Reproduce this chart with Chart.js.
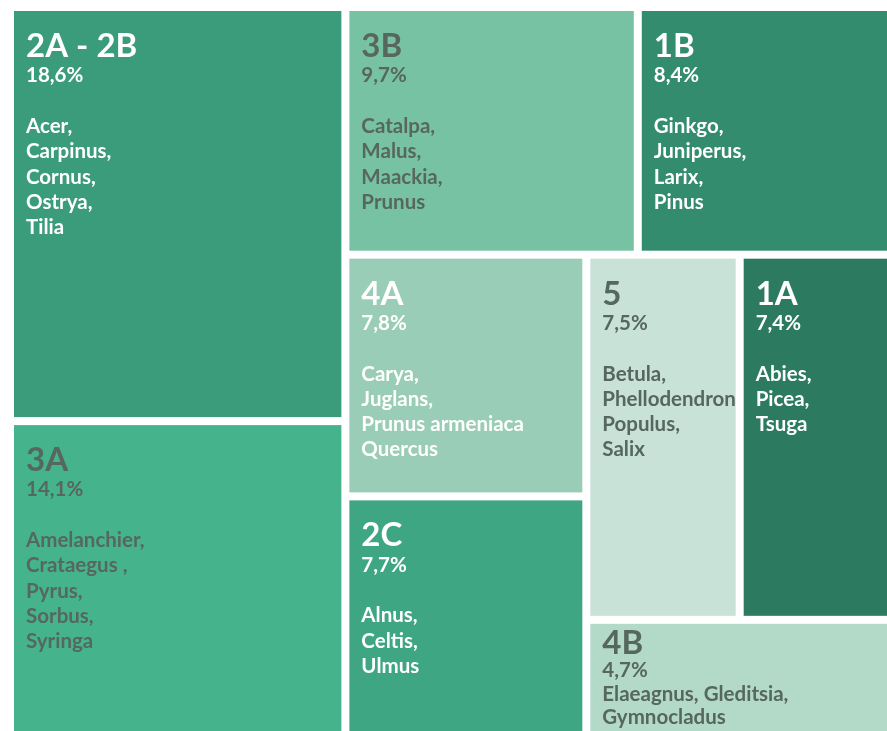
<!DOCTYPE html>
<html>
<head>
<meta charset="utf-8">
<script src="https://cdn.jsdelivr.net/npm/chart.js@4.4.1/dist/chart.umd.min.js"></script>
<style>
	html, body { margin: 0; padding: 0; background: #fff; overflow: hidden; }
	#wrap { position: relative; width: 891px; height: 735px; }
</style>
</head>
<body>
<div id="wrap"><canvas id="treemap"></canvas></div>
<script>
// Groups, their share (%) and the genera listed in each cell
const groups = ['2A - 2B', '3A', '3B', '1B', '4A', '2C', '5', '1A', '4B'];
const shares = [18.6, 14.1, 9.7, 8.4, 7.8, 7.7, 7.5, 7.4, 4.7];
const genera = [
	['Acer,', 'Carpinus,', 'Cornus,', 'Ostrya,', 'Tilia'],
	['Amelanchier,', 'Crataegus ,', 'Pyrus,', 'Sorbus,', 'Syringa'],
	['Catalpa,', 'Malus,', 'Maackia,', 'Prunus'],
	['Ginkgo,', 'Juniperus,', 'Larix,', 'Pinus'],
	['Carya,', 'Juglans,', 'Prunus armeniaca', 'Quercus'],
	['Alnus,', 'Celtis,', 'Ulmus'],
	['Betula,', 'Phellodendron', 'Populus,', 'Salix'],
	['Abies,', 'Picea,', 'Tsuga'],
	['Elaeagnus, Gleditsia,', 'Gymnocladus']
];
const fillColors = ['#3a9c7a', '#45b48c', '#78c2a4', '#348c6e', '#9acdb7', '#3fa683', '#c8e2d8', '#2c7b60', '#b3d9c8'];
const textColors = ['#ffffff', '#56675f', '#56675f', '#ffffff', '#ffffff', '#ffffff', '#56675f', '#ffffff', '#56675f'];

// squarified layout (same approach as d3.treemapSquarify with a custom ratio)
function squarify(nodes, x0, y0, x1, y1, ratio) {
	var out = [];
	var value = nodes.reduce(function(s, n) { return s + n.value; }, 0);
	var i0 = 0, i1 = 0, n = nodes.length;
	while(i0 < n) {
		var dx = x1 - x0, dy = y1 - y0;
		var sumValue = nodes[i1++].value;
		var minValue = sumValue, maxValue = sumValue;
		var alpha = Math.max(dy / dx, dx / dy) / (value * ratio);
		var beta = sumValue * sumValue * alpha;
		var minRatio = Math.max(maxValue / beta, beta / minValue);
		for(; i1 < n; ++i1) {
			var v = nodes[i1].value;
			sumValue += v;
			if(v < minValue) minValue = v;
			if(v > maxValue) maxValue = v;
			beta = sumValue * sumValue * alpha;
			var newRatio = Math.max(maxValue / beta, beta / minValue);
			if(newRatio > minRatio) { sumValue -= v; break; }
			minRatio = newRatio;
		}
		var row = nodes.slice(i0, i1);
		if(dx < dy) {
			/* row across the top */
			var yb = y0 + dy * sumValue / value, x = x0;
			row.forEach(function(nd) {
				var w = dx * nd.value / sumValue;
				out.push({ node: nd, x0: x, y0: y0, x1: x + w, y1: yb });
				x += w;
			});
			y0 = yb;
		} else {
			/* column down the left side */
			var xb = x0 + dx * sumValue / value, y = y0;
			row.forEach(function(nd) {
				var h = dy * nd.value / sumValue;
				out.push({ node: nd, x0: x0, y0: y, x1: xb, y1: y + h });
				y += h;
			});
			x0 = xb;
		}
		value -= sumValue;
		i0 = i1;
	}
	return out;
}

function formatShare(v) {
	return v.toFixed(1).replace('.', ',') + '%';
}

const treemapPlugin = {
	id: 'treemap',
	afterDraw: function(chart) {
		var ctx = chart.ctx;
		var xs = chart.scales.x, ys = chart.scales.y;
		var left = xs.getPixelForValue(0), right = xs.getPixelForValue(100);
		var top = ys.getPixelForValue(0), bottom = ys.getPixelForValue(100);
		var nodes = shares.map(function(v, i) { return { value: v, index: i }; })
			.sort(function(a, b) { return b.value - a.value; });
		var cells = squarify(nodes, left, top, right, bottom, 1.28);
		var gap = 4;
		ctx.save();
		cells.forEach(function(c) {
			var i = c.node.index;
			var x = c.x0 + gap, y = c.y0 + gap, w = c.x1 - c.x0 - gap * 2, h = c.y1 - c.y0 - gap * 2;
			ctx.fillStyle = fillColors[i];
			ctx.fillRect(x, y, w, h);

			var roomy = h > 200;
			var tx = x + 12, ty = y + (roomy ? 46 : 30), lh = roomy ? 25.3 : 23.5;
			ctx.fillStyle = textColors[i];
			ctx.textAlign = 'left';
			ctx.textBaseline = 'alphabetic';
			ctx.font = 'bold 33px Lato';
			ctx.fillText(groups[i], tx, ty);
			ty += lh;
			ctx.font = 'bold 20.5px Lato';
			ctx.fillText(formatShare(shares[i]), tx, ty);
			ty += (roomy ? lh * 2 : lh); /* blank line only where there is room */
			genera[i].forEach(function(line) {
				ctx.fillText(line, tx, ty);
				ty += lh;
			});
		});
		ctx.restore();
	}
};

new Chart(document.getElementById('treemap'), {
	type: 'scatter',
	data: { datasets: [] },
	options: {
		responsive: true,
		maintainAspectRatio: false,
		animation: false,
		layout: { padding: { left: 10, top: 7, right: 0, bottom: 0 } },
		plugins: { legend: { display: false }, tooltip: { enabled: false } },
		scales: {
			x: { type: 'linear', min: 0, max: 100, display: false },
			y: { type: 'linear', min: 0, max: 100, reverse: true, display: false }
		}
	},
	plugins: [treemapPlugin]
});
</script>
</body>
</html>
